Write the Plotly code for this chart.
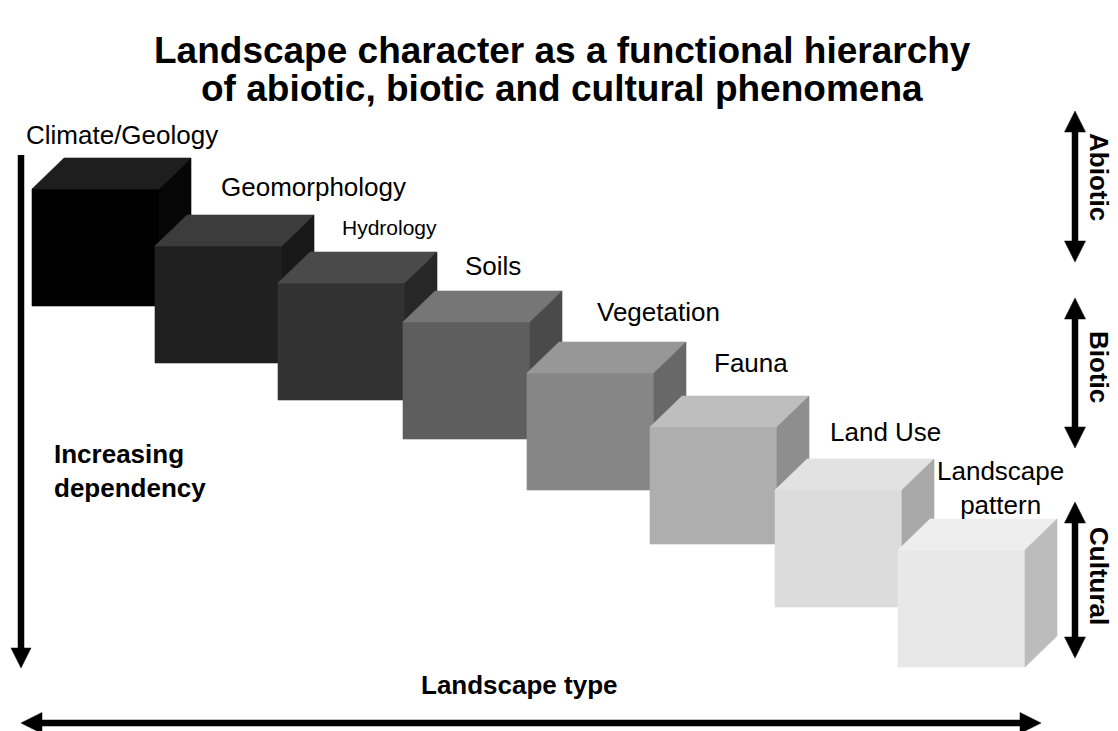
import plotly.graph_objects as go

# ---------------- data ----------------
TITLE_LINES = ["Landscape character as a functional hierarchy",
               "of abiotic, biotic and cultural phenomena"]
LEVELS = ["Climate/Geology", "Geomorphology", "Hydrology", "Soils",
          "Vegetation", "Fauna", "Land Use", "Landscape<br>pattern"]
GROUPS = ["Abiotic", "Biotic", "Cultural"]
Y_AXIS_LABEL = "Increasing<br>dependency"
X_AXIS_LABEL = "Landscape type"

# ---------------- styles / layout geometry ----------------
FRONT_COLORS = ["#000000", "#202020", "#323232", "#5e5e5e",
                "#868686", "#aeaeae", "#dcdcdc", "#e8e8e8"]
TOP_COLORS = ["#1e1e1e", "#3c3c3c", "#4a4a4a", "#767676",
              "#979797", "#bebebe", "#e2e2e2", "#eeeeee"]
SIDE_COLORS = ["#060606", "#181818", "#272727", "#4a4a4a",
               "#686868", "#8e8e8e", "#a9a9a9", "#bcbcbc"]
CUBE_LEFT = [32, 155, 278, 403, 527, 650, 775, 898]
CUBE_TOP = [189, 246, 283, 322, 373, 427, 490, 550]
CUBE_W, CUBE_H, DEPTH_X, DEPTH_Y = 127, 117, 32, 31

LABEL_POS = [(24, 135, "left"), (219, 187, "left"), (340, 227, "left"),
             (463, 266, "left"), (595, 312, "left"), (712, 363, "left"),
             (828, 432, "left"), (1000, 488, "center")]
LABEL_SIZE = [26, 26, 21, 26, 26, 26, 26, 26]
GROUP_ARROWS = [(111, 262), (298, 448), (502, 658)]
GROUP_TEXT_Y = [177, 367, 576]
GROUP_ARROW_X = 1075
FONT = "Liberation Sans, Arial, sans-serif"
W, H = 1118, 731

fig = go.Figure()

# cubes
for i, name in enumerate(LEVELS):
    L, T = CUBE_LEFT[i], CUBE_TOP[i]
    R, B = L + CUBE_W, T + CUBE_H
    faces = [
        ([L, R, R, L, L], [T, T, B, B, T], FRONT_COLORS[i]),
        ([L, L + DEPTH_X, R + DEPTH_X, R, L], [T, T - DEPTH_Y, T - DEPTH_Y, T, T], TOP_COLORS[i]),
        ([R, R + DEPTH_X, R + DEPTH_X, R, R], [T, T - DEPTH_Y, B - DEPTH_Y, B, T], SIDE_COLORS[i]),
    ]
    for xs, ys, col in faces:
        fig.add_trace(go.Scatter(x=xs, y=ys, mode="lines", fill="toself",
                                 fillcolor=col, line=dict(color=col, width=0.6),
                                 hoverinfo="skip", showlegend=False))

shapes = []


def arrow_head(tip_x, tip_y, direction, length=21, half=10.5):
    if direction == "down":
        p = [(tip_x, tip_y), (tip_x - half, tip_y - length), (tip_x + half, tip_y - length)]
    elif direction == "up":
        p = [(tip_x, tip_y), (tip_x - half, tip_y + length), (tip_x + half, tip_y + length)]
    elif direction == "left":
        p = [(tip_x, tip_y), (tip_x + length, tip_y - half), (tip_x + length, tip_y + half)]
    else:
        p = [(tip_x, tip_y), (tip_x - length, tip_y - half), (tip_x - length, tip_y + half)]
    path = "M {} {} L {} {} L {} {} Z".format(*[c for pt in p for c in pt])
    return dict(type="path", path=path, xref="x", yref="y",
                fillcolor="black", line=dict(color="black", width=0.5))


def line(x0, y0, x1, y1, w=6.5):
    return dict(type="line", x0=x0, y0=y0, x1=x1, y1=y1, xref="x", yref="y",
                line=dict(color="black", width=w))


# left vertical arrow
shapes.append(line(21, 155, 21, 652))
shapes.append(arrow_head(21, 668, "down", 20, 10))
# bottom horizontal arrow
shapes.append(line(36, 723, 1026, 723))
shapes.append(arrow_head(21, 723, "left"))
shapes.append(arrow_head(1041, 723, "right"))
# group arrows
for (y0, y1) in GROUP_ARROWS:
    shapes.append(line(GROUP_ARROW_X, y0 + 15, GROUP_ARROW_X, y1 - 15))
    shapes.append(arrow_head(GROUP_ARROW_X, y0, "up"))
    shapes.append(arrow_head(GROUP_ARROW_X, y1, "down"))

annotations = []
# title
for j, t in enumerate(TITLE_LINES):
    annotations.append(dict(x=562, y=[50, 88][j], xref="x", yref="y", text="<b>%s</b>" % t,
                            showarrow=False, xanchor="center", yanchor="middle",
                            font=dict(family=FONT, size=37, color="black")))
# level labels
for i, name in enumerate(LEVELS):
    x, y, anc = LABEL_POS[i]
    annotations.append(dict(x=x, y=y, xref="x", yref="y", text=name, showarrow=False,
                            xanchor=anc, yanchor="middle", align="center",
                            font=dict(family=FONT, size=LABEL_SIZE[i], color="black")))
# axis-like labels
annotations.append(dict(x=52, y=471, xref="x", yref="y", text="<b>%s</b>" % Y_AXIS_LABEL,
                        showarrow=False, xanchor="left", yanchor="middle", align="left",
                        font=dict(family=FONT, size=26, color="black")))
annotations.append(dict(x=519, y=685, xref="x", yref="y", text="<b>%s</b>" % X_AXIS_LABEL,
                        showarrow=False, xanchor="center", yanchor="middle",
                        font=dict(family=FONT, size=26, color="black")))
# group labels
for g, ty in zip(GROUPS, GROUP_TEXT_Y):
    annotations.append(dict(x=1099, y=ty, xref="x", yref="y", text="<b>%s</b>" % g,
                            showarrow=False, textangle=90, xanchor="center", yanchor="middle",
                            font=dict(family=FONT, size=26, color="black")))

fig.update_layout(
    width=W, height=H, autosize=False,
    margin=dict(l=0, r=0, t=0, b=0, pad=0),
    paper_bgcolor="white", plot_bgcolor="white",
    xaxis=dict(range=[0, W], visible=False, fixedrange=True),
    yaxis=dict(range=[H, 0], visible=False, fixedrange=True),
    shapes=shapes, annotations=annotations, showlegend=False,
)

fig.write_html("out.html", config={"displayModeBar": False},
               post_script="document.body.style.margin='0';document.body.style.overflow='hidden';")
